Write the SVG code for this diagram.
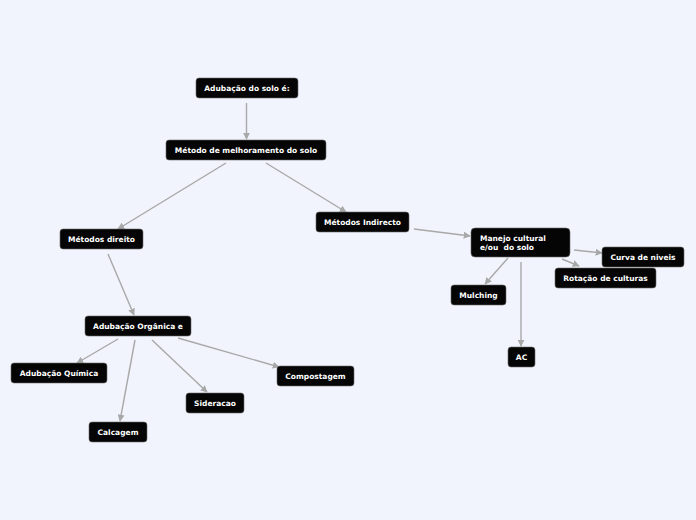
<svg xmlns="http://www.w3.org/2000/svg" width="696" height="520" viewBox="0 0 696 520">
<defs>
<marker id="ah" viewBox="0 0 10 10" refX="9" refY="5" markerWidth="7" markerHeight="7" markerUnits="userSpaceOnUse" orient="auto">
<path d="M0,0 L10,5 L0,10 z" fill="#a8a8a8"/>
</marker>
<style>
.n rect{fill:#050505;stroke:#6a6a6a;stroke-width:0.6}
.n text{fill:#ffffff;font-family:"DejaVu Sans",Verdana,sans-serif;font-weight:bold;font-size:7.5px;text-anchor:middle}
.n text.l{text-anchor:start}
#edges line{stroke:#a8a8a8;stroke-width:1.4;marker-end:url(#ah)}
</style>
</defs>
<rect width="696" height="520" fill="#f1f4fd"/>
<g id="edges">
<line x1="246.5" y1="103" x2="246.5" y2="139"/>
<line x1="226" y1="163" x2="118" y2="229"/>
<line x1="266" y1="163" x2="346" y2="212"/>
<line x1="108" y1="254" x2="134" y2="315"/>
<line x1="414" y1="229" x2="470" y2="236"/>
<line x1="574" y1="250" x2="602" y2="253"/>
<line x1="562" y1="259" x2="579" y2="266"/>
<line x1="508" y1="258" x2="485" y2="284"/>
<line x1="521" y1="262" x2="521" y2="346"/>
<line x1="118" y1="339" x2="77" y2="363"/>
<line x1="135" y1="340" x2="120" y2="421"/>
<line x1="152" y1="340" x2="207" y2="392"/>
<line x1="178" y1="338" x2="279" y2="367"/>
</g>
<g id="n1" class="n"><rect x="196" y="78" width="102" height="20" rx="3"/><text x="247" y="91">Adubação do solo é:</text></g>
<g id="n2" class="n"><rect x="166" y="140" width="160" height="20" rx="3"/><text x="246" y="153">Método de melhoramento do solo</text></g>
<g id="n3" class="n"><rect x="60" y="229" width="83" height="20" rx="3"/><text x="101.5" y="242">Métodos direito</text></g>
<g id="n4" class="n"><rect x="316" y="212" width="93" height="20" rx="3"/><text x="362.5" y="225">Métodos Indirecto</text></g>
<g id="n5" class="n"><rect x="471" y="228" width="99" height="29" rx="4"/><text class="l" x="480" y="241">Manejo cultural</text><text class="l" x="480" y="250" xml:space="preserve">e/ou  do solo</text></g>
<g id="n6" class="n"><rect x="602" y="247" width="82" height="20" rx="3"/><text x="643" y="260">Curva de niveis</text></g>
<g id="n7" class="n"><rect x="555" y="268" width="101" height="20" rx="3"/><text x="605.5" y="281">Rotação de culturas</text></g>
<g id="n8" class="n"><rect x="451" y="285" width="55" height="20" rx="3"/><text x="478.5" y="298">Mulching</text></g>
<g id="n9" class="n"><rect x="508" y="347" width="27" height="20" rx="3"/><text x="521.5" y="360">AC</text></g>
<g id="n10" class="n"><rect x="85" y="316" width="106" height="20" rx="3"/><text x="138" y="329">Adubação Orgânica e</text></g>
<g id="n11" class="n"><rect x="11" y="363" width="96" height="20" rx="3"/><text x="59" y="376">Adubação Química</text></g>
<g id="n12" class="n"><rect x="89" y="422" width="58" height="20" rx="3"/><text x="118" y="435">Calcagem</text></g>
<g id="n13" class="n"><rect x="186" y="393" width="58" height="20" rx="3"/><text x="215" y="406">Sideracao</text></g>
<g id="n14" class="n"><rect x="277" y="366" width="77" height="20" rx="3"/><text x="315.5" y="379">Compostagem</text></g>
</svg>
